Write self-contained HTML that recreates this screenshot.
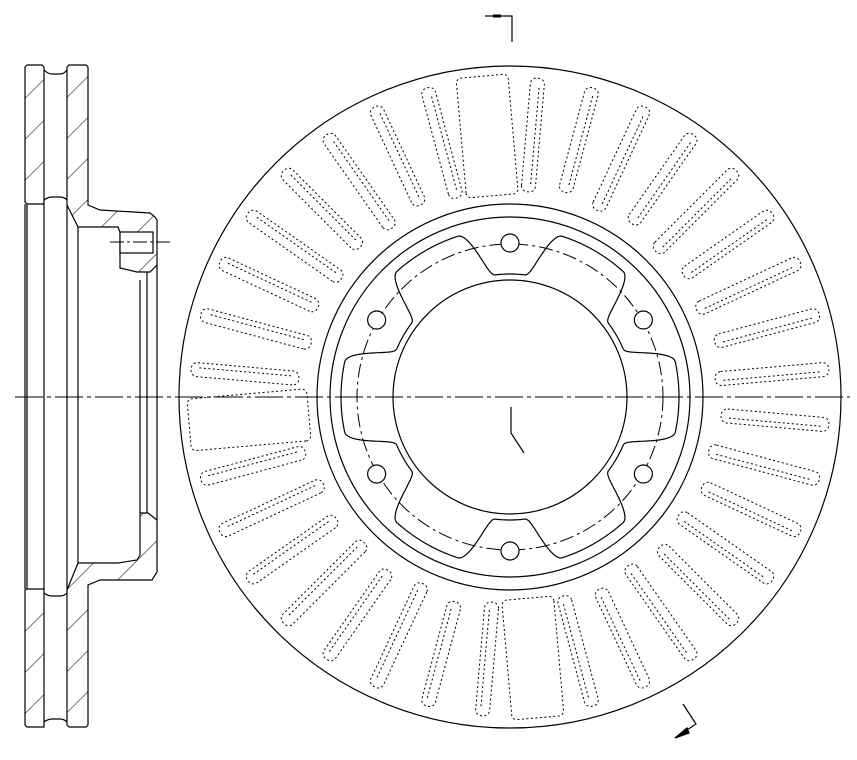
<!DOCTYPE html>
<html><head><meta charset="utf-8"><style>html,body{margin:0;padding:0;background:#fff}svg{display:block}</style></head>
<body>
<svg id="s" width="857" height="760" viewBox="0 0 857 760" xmlns="http://www.w3.org/2000/svg">
<defs>
<pattern id="h" patternUnits="userSpaceOnUse" width="29" height="29" patternTransform="rotate(45)">
<line x1="0" y1="0" x2="0" y2="29" stroke="#000" stroke-width="1"/>
</pattern>
</defs>
<g fill="none" stroke="#000" stroke-width="1.2">
<path d="M25,67 L27,65 L42,65 L44,67 L44,204 L27,204 L25,202 Z" fill="url(#h)"/>
<path d="M67,67 L69,65 L86,65 L88,67 L88,205 L100,210 L150,213 L155,217 L157,220 L157,265 L150,272 L137,272 L120,268 L120,232 L118,227 L78,227 L67,205 Z" fill="url(#h)"/>
<path d="M44,70 Q48,74 52,74 L60,74 Q64,74 67,70"/>
<path d="M44,200 Q48,197 52,197 L60,197 Q64,197 67,200"/>
<path d="M25,590 L27,589 L44,589 L44,727 L27,727 L25,725 Z" fill="url(#h)"/>
<path d="M67,590 L78,563 L118,563 L137,560 L140,555 L140,513 L148,513 L157,520 L157,572 L152,580 L100,580 L88,585 L88,725 L86,727 L69,727 L67,725 Z" fill="url(#h)"/>
<path d="M44,593 Q48,596 52,596 L60,596 Q64,596 67,593"/>
<path d="M44,722 Q48,719 52,719 L60,719 Q64,719 67,722"/>
<rect x="120" y="232" width="33" height="21" fill="#fff"/>
<line x1="27" y1="204" x2="27" y2="589"/>
<line x1="25" y1="204" x2="25" y2="589"/>
<line x1="44" y1="204" x2="44" y2="589"/>
<line x1="67" y1="205" x2="67" y2="590"/>
<line x1="78" y1="227" x2="78" y2="563"/>
<line x1="140" y1="280" x2="140" y2="513"/>
<line x1="147" y1="272" x2="147" y2="513"/>
<line x1="157" y1="265" x2="157" y2="520"/>
<line x1="110" y1="242" x2="172" y2="242" stroke-dasharray="14,3,3,3" stroke-width="1"/>
<line x1="15" y1="397" x2="850" y2="397" stroke-dasharray="28,4,4,4" stroke-width="1"/>
<circle cx="510" cy="397" r="331"/>
<circle cx="510" cy="397" r="193"/>
<circle cx="510" cy="397" r="180"/>
<circle cx="510" cy="397" r="153" stroke-dasharray="14,4,3,4" stroke-width="1"/>
<circle cx="510" cy="397" r="117"/>
<g id="lobes"></g>
<g id="slots" stroke-dasharray="2,2.5" stroke-width="1"></g>
<g id="holes"></g>
<path d="M511,407 L511,433 L524,453"/>
<path d="M485,16 L512,16 L512,42"/>
<line x1="493" y1="16" x2="501" y2="16" stroke-width="3"/>
<path d="M683,704 L696,724 L675,738"/>
<path d="M675,738 L687,728 L689,733 Z" fill="#000"/>
</g>
</svg>
<script>
var NS="http://www.w3.org/2000/svg",cx=510,cy=397,R=Math.PI/180;
function P(r,a){return [cx+r*Math.cos(a*R),cy+r*Math.sin(a*R)];}
var bolts=[-90,-30,30,90,150,210],d="";
for(var i=0;i<=1440;i++){var a=i*0.25,r=169;
 for(var b=0;b<6;b++){var dd=Math.abs(((a-bolts[b])%360+540)%360-180);
  if(dd<7)r=123;else if(dd<18){var t=(dd-7)/11;r=123+46*(0.5-0.5*Math.cos(Math.PI*t));}}
 var p=P(r,a);d+=(i?"L":"M")+p[0].toFixed(1)+","+p[1].toFixed(1);}
var pa=document.createElementNS(NS,"path");pa.setAttribute("d",d+"Z");document.getElementById("lobes").appendChild(pa);
bolts.forEach(function(b){var p=P(154,b);var c=document.createElementNS(NS,"circle");c.setAttribute("cx",p[0]);c.setAttribute("cy",p[1]);c.setAttribute("r",9);c.setAttribute("fill","#fff");document.getElementById("holes").appendChild(c);});
var sg=document.getElementById("slots");
for(var k=0;k<36;k++){var a=265+10*k,wide=(k==0||k==18||k==27);
 var r1=wide?202:(k%2?206:212),r2=wide?322:320,rr=wide?5:6;
 var g=document.createElementNS(NS,"rect");
 g.setAttribute("x",r1);g.setAttribute("y",-(wide?26:7));g.setAttribute("width",r2-r1);g.setAttribute("height",wide?52:14);
 g.setAttribute("rx",rr);g.setAttribute("transform","translate("+cx+","+cy+") rotate("+a+")");
 sg.appendChild(g);
 if(!wide){var g2=document.createElementNS(NS,"line");g2.setAttribute("x1",r1+8);g2.setAttribute("x2",r2-8);g2.setAttribute("y1",2);g2.setAttribute("y2",2);g2.setAttribute("transform","translate("+cx+","+cy+") rotate("+a+")");sg.appendChild(g2);}
}
</script>
</body></html>
